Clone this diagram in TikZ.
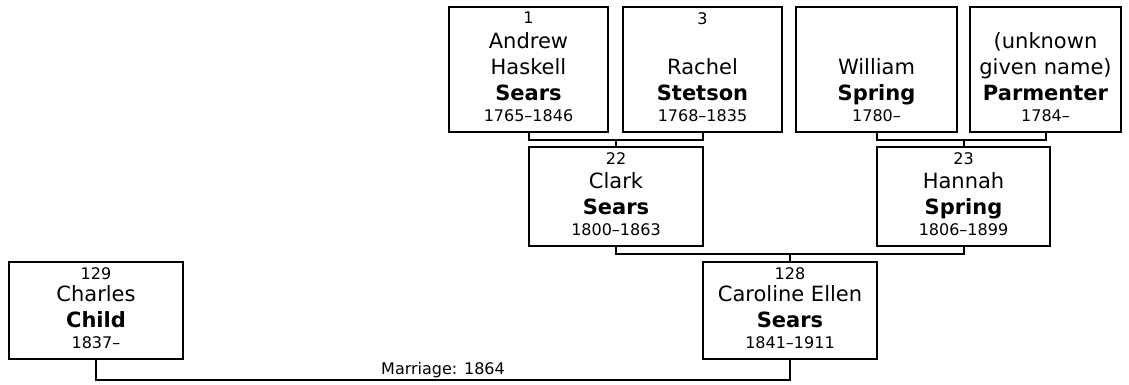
\documentclass[tikz,border=0pt]{standalone}
\usepackage{fontspec}
\setmainfont{DejaVu Sans}
\newcommand{\namesize}{\fontsize{21}{26}\selectfont}
\newcommand{\yearsize}{\fontsize{16}{19}\selectfont}

\tikzset{
  person/.style={draw, line width=2pt, inner sep=0pt, outer sep=0pt},
  names/.style={anchor=south, inner sep=0pt, yshift=10pt, align=center, font=\namesize},
  refno/.style={anchor=north, inner sep=0pt, yshift=-5pt, font=\yearsize},
  link/.style={line width=2pt},
}

\begin{document}
\begin{tikzpicture}[x=1pt,y=-1pt]
    \useasboundingbox (0,0) rectangle (1129,384);
    % grandparents
    \node[person, minimum width=159pt, minimum height=125pt, label={[refno]north:1},
      label={[names]south:{Andrew\\Haskell\\\textbf{Sears}\\[-5pt]{\yearsize 1765--1846}}}] (andrew) at (528.5,69.5) {};
    \node[person, minimum width=159pt, minimum height=125pt, label={[refno]north:3},
      label={[names]south:{Rachel\\\textbf{Stetson}\\[-5pt]{\yearsize 1768--1835}}}] (rachel) at (702.5,69.5) {};
    \node[person, minimum width=161pt, minimum height=125pt,
      label={[names]south:{William\\\textbf{Spring}\\[-5pt]{\yearsize 1780--}}}] (william) at (876.5,69.5) {};
    \node[person, minimum width=151pt, minimum height=125pt,
      label={[names]south:{(unknown\\given name)\\\textbf{Parmenter}\\[-5pt]{\yearsize 1784--}}}] (parmenter) at (1045.5,69.5) {};
    % parents
    \node[person, minimum width=174pt, minimum height=99pt, label={[refno]north:22},
      label={[names]south:{Clark\\\textbf{Sears}\\[-5pt]{\yearsize 1800--1863}}}] (clark) at (616,196.5) {};
    \node[person, minimum width=173pt, minimum height=99pt, label={[refno]north:23},
      label={[names]south:{Hannah\\\textbf{Spring}\\[-5pt]{\yearsize 1806--1899}}}] (hannah) at (963.5,196.5) {};
    % couple
    \node[person, minimum width=174pt, minimum height=97pt, label={[refno]north:129},
      label={[names]south:{Charles\\\textbf{Child}\\[-5pt]{\yearsize 1837--}}}] (charles) at (96,310.5) {};
    \node[person, minimum width=174pt, minimum height=97pt, label={[refno]north:128},
      label={[names]south:{Caroline Ellen\\\textbf{Sears}\\[-5pt]{\yearsize 1841--1911}}}] (caroline) at (790,310.5) {};

    \draw[link] (andrew.south) -- ++(0,8) -| (rachel.south);
    \draw[link] (clark.north) -- ++(0,-7);
    \draw[link] (william.south) -- ++(0,8) -| (parmenter.south);
    \draw[link] (hannah.north) -- ++(0,-7);
    \draw[link] (clark.south) -- ++(0,7.5) -| (hannah.south);
    \draw[link] (caroline.north) -- ++(0,-8.5);
    \draw[link] (charles.south) -- ++(0,21) -| node[pos=0.25, above, inner sep=1pt, font=\yearsize] (wedding) {Marriage: 1864} (caroline.south);
\end{tikzpicture}
\end{document}
